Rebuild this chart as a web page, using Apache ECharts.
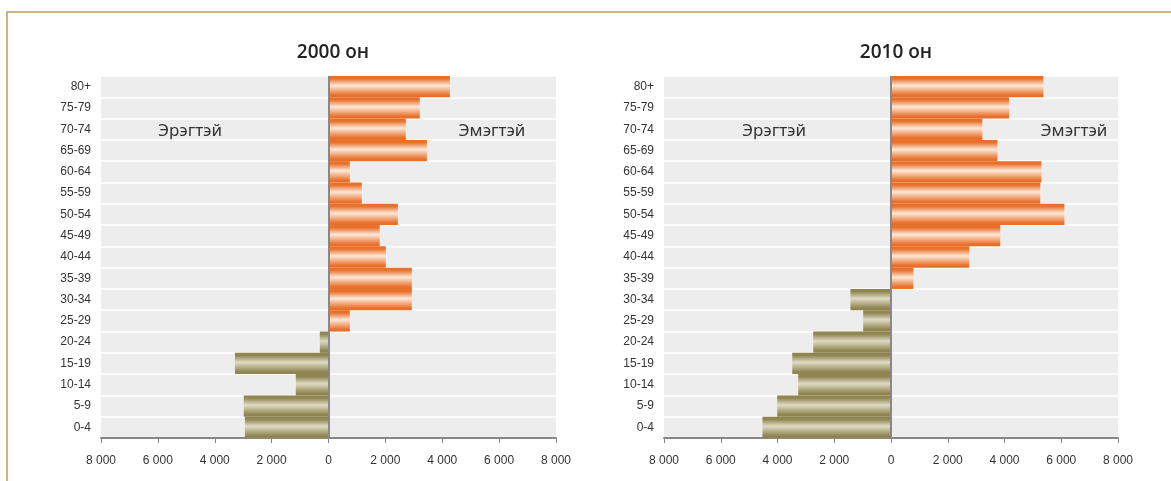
<!DOCTYPE html>
<html>
<head>
<meta charset="utf-8">
<script src="https://cdn.jsdelivr.net/npm/echarts@6/dist/echarts.min.js"></script>
<style>
  html, body { margin: 0; padding: 0; background: #fff; }
  #chart { width: 1171px; height: 481px; }
</style>
</head>
<body>
<div id="chart"></div>
<script>
// age groups, bottom to top
var ages = ['0-4', '5-9', '10-14', '15-19', '20-24', '25-29', '30-34', '35-39', '40-44',
            '45-49', '50-54', '55-59', '60-64', '65-69', '70-74', '75-79', '80+'];

// 2000 он
var male2000   = [2940, 2980, 1150, 3290, 305, null, null, null, null, null, null, null, null, null, null, null, null];
var female2000 = [null, null, null, null, null, 750, 2930, 2930, 2015, 1800, 2440, 1170, 750, 3460, 2720, 3210, 4270];

// 2010 он
var male2010   = [4530, 4010, 3270, 3480, 2740, 980, 1430, null, null, null, null, null, null, null, null, null, null];
var female2010 = [null, null, null, null, null, null, null, 790, 2760, 3850, 6110, 5260, 5300, 3750, 3220, 4160, 5370];

var titles = ['2000 он', '2010 он'];
var maleLabel = 'Эрэгтэй';
var femaleLabel = 'Эмэгтэй';

function stripe(dark, light) {
    return new echarts.graphic.LinearGradient(0, 0, 0, 1, [
        {offset: 0, color: dark},
        {offset: 0.12, color: dark},
        {offset: 0.45, color: light},
        {offset: 0.9, color: dark},
        {offset: 1, color: dark}
    ]);
}
var orange = stripe('#e8702a', '#fde8d8');
var olive = stripe('#8f8550', '#e0dac4');

function fmt(v) {
    v = Math.abs(v);
    if (v >= 1000) {
        var s = String(v);
        return s.slice(0, s.length - 3) + ' ' + s.slice(s.length - 3);
    }
    return String(v);
}

var grids = [
    {left: 101, width: 455, top: 76, height: 362},
    {left: 664, width: 454, top: 76, height: 362}
];

var xAxis = [], yAxis = [], series = [];
var maleData = [male2000, male2010];
var femaleData = [female2000, female2010];

for (var i = 0; i < 2; i++) {
    grids[i].show = true;
    grids[i].backgroundColor = '#ededed';
    grids[i].borderWidth = 0;

    xAxis.push({
        type: 'value', gridIndex: i, min: -8000, max: 8000, interval: 2000,
        axisLine: {show: true, lineStyle: {color: '#888', width: 2}},
        axisTick: {show: true, length: 5, lineStyle: {color: '#888', width: 1}},
        axisLabel: {color: '#333', fontSize: 12, fontFamily: 'Liberation Sans', margin: 17, formatter: fmt},
        splitLine: {show: false}
    });
    yAxis.push({
        type: 'category', gridIndex: i, data: ages,
        axisLine: {show: false},
        axisTick: {show: false},
        axisLabel: {color: '#333', fontSize: 12, fontFamily: 'Liberation Sans', margin: 10, interval: 0},
        splitLine: {show: true, interval: 0, lineStyle: {color: '#fff', width: 1.5}}
    });
    series.push({
        name: maleLabel, type: 'bar', stack: 'p' + i,
        xAxisIndex: i, yAxisIndex: i,
        barCategoryGap: '0%',
        itemStyle: {color: olive},
        data: maleData[i].map(function (v) { return v == null ? null : -v; }),
        markLine: {
            symbol: 'none', silent: true, label: {show: false},
            lineStyle: {color: '#888', width: 2, type: 'solid'},
            data: [{xAxis: 0}]
        }
    });
    series.push({
        name: femaleLabel, type: 'bar', stack: 'p' + i,
        xAxisIndex: i, yAxisIndex: i,
        barCategoryGap: '0%',
        itemStyle: {color: orange},
        data: femaleData[i]
    });
}

var chart = echarts.init(document.getElementById('chart'));
chart.setOption({
    animation: false,
    title: [
        {text: titles[0], left: 328, top: 38, textAlign: 'center',
         textStyle: {fontFamily: 'Open Sans', fontWeight: 600, fontSize: 19, color: '#222'}},
        {text: titles[1], left: 891, top: 38, textAlign: 'center',
         textStyle: {fontFamily: 'Open Sans', fontWeight: 600, fontSize: 19, color: '#222'}}
    ],
    grid: grids,
    xAxis: xAxis,
    yAxis: yAxis,
    series: series,
    graphic: [
        {type: 'rect', shape: {x: 7, y: 12, width: 1300, height: 600}, silent: true,
         style: {fill: 'none', stroke: '#bb9d5c', lineWidth: 1.5}},
        {type: 'text', x: 190, y: 131, silent: true,
         style: {text: maleLabel, fill: '#333', font: '17px "Noto Sans"', textAlign: 'center', textVerticalAlign: 'middle'}},
        {type: 'text', x: 492, y: 131, silent: true,
         style: {text: femaleLabel, fill: '#333', font: '17px "Noto Sans"', textAlign: 'center', textVerticalAlign: 'middle'}},
        {type: 'text', x: 774, y: 131, silent: true,
         style: {text: maleLabel, fill: '#333', font: '17px "Noto Sans"', textAlign: 'center', textVerticalAlign: 'middle'}},
        {type: 'text', x: 1074, y: 131, silent: true,
         style: {text: femaleLabel, fill: '#333', font: '17px "Noto Sans"', textAlign: 'center', textVerticalAlign: 'middle'}}
    ]
});
</script>
</body>
</html>
